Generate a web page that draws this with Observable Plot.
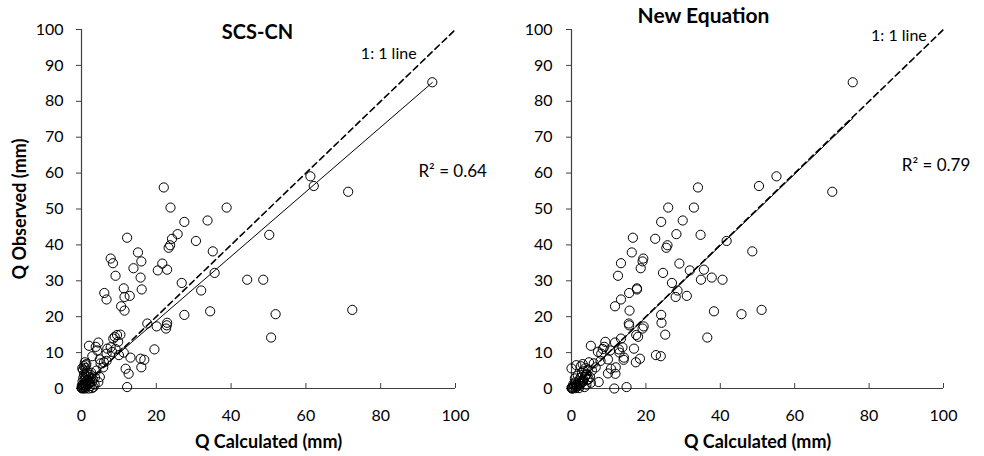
<!DOCTYPE html>
<html><head><meta charset="utf-8">
<script src="https://cdn.jsdelivr.net/npm/d3@7"></script>
<script src="https://cdn.jsdelivr.net/npm/@observablehq/plot@0.6"></script>
<style>
html,body{margin:0;padding:0;background:#fff;}
#wrap{display:flex;width:984px;height:456px;overflow:hidden;}
#wrap svg{display:block;flex:none;}
</style></head><body><div id="wrap"></div>
<script>
// Observed runoff (mm), shared by both panels
const observed = [
  85.3,59.1,56.4,56.0,54.8,50.4,50.4,46.8,46.4,43.0,42.8,42.0,41.7,41.1,39.9,39.2,38.2,37.9,36.2,35.4,
  34.9,34.8,33.5,33.1,32.9,32.2,31.4,30.9,30.3,30.3,29.4,27.9,27.6,27.3,26.6,25.8,25.5,24.8,22.9,21.9,
  21.7,21.5,20.7,20.5,
  18.3,18.1,17.6,17.3,16.7,15.0,14.9,14.4,14.2,13.9,13.0,12.8,11.9,11.6,11.1,11.5,10.9,10.2,11.0,10.0,
  9.3,9.0,8.6,8.3,8.0,8.1,7.3,7.0,7.7,5.9,5.5,4.1,4.2,5.0,5.9,3.2,1.8,0.4,0.0,5.6,6.5,9.7,10.6,
  0.0,0.1,0.2,0.3,0.5,0.6,0.8,1.0,1.2,1.5,1.7,2.0,2.2,2.5,2.8,3.0,3.3,3.6,4.0,4.4,
  4.8,5.2,5.7,6.2,6.8,7.3,0.0,0.1,0.4,0.7,1.1,1.4,1.9,2.4,3.1,3.8,0.2,0.9,1.6,2.6
];
// Calculated runoff (mm), SCS-CN
const calcSCS = [
  93.8,61.2,62.1,22.0,71.3,23.8,38.8,33.7,27.5,25.7,50.2,12.2,24.2,30.6,23.7,23.3,35.1,15.1,7.8,16.0,
  8.4,21.6,13.9,22.9,20.4,35.6,9.1,15.8,44.3,48.6,26.8,11.3,16.1,32.0,6.1,12.9,11.5,6.7,10.6,72.4,
  11.5,34.4,51.9,27.5,
  22.9,17.6,22.8,20.1,22.6,10.4,9.5,8.9,50.7,8.5,9.8,4.5,2.0,3.8,6.9,7.8,19.5,8.2,9.1,11.3,
  10.0,2.9,13.1,15.8,16.8,4.9,6.0,5.1,6.7,16.0,11.8,12.6,1.3,4.0,5.8,4.9,4.5,12.2,1.0,0.2,1.1,6.7,4.2,
  0.2,0.5,0.1,0.9,0.3,1.2,0.6,0.4,1.6,0.8,2.1,0.3,1.4,0.9,2.3,0.5,1.8,1.1,0.7,2.6,
  1.5,0.4,1.0,0.6,1.3,0.9,1.9,2.8,3.2,2.4,3.5,2.0,2.9,1.7,3.6,2.5,0.0,0.1,2.2,3.0
];
// Calculated runoff (mm), new equation
const calcNew = [
  75.6,55.1,50.4,34.0,70.1,26.0,32.9,29.9,24.1,28.2,34.7,16.5,22.5,41.7,25.8,25.5,48.6,16.2,19.3,19.1,
  13.3,29.0,18.6,35.6,31.8,24.6,12.5,37.7,34.8,40.6,27.0,17.6,17.6,28.5,15.5,31.0,28.0,13.3,11.7,51.1,
  15.6,38.3,45.7,24.1,
  24.2,15.4,15.5,19.4,19.1,25.2,17.4,17.9,36.5,13.3,9.1,11.7,5.2,8.8,16.8,13.7,12.7,7.1,8.4,12.9,
  22.7,24.0,14.1,18.4,14.0,9.8,17.3,6.0,7.8,11.9,10.6,11.8,9.8,5.5,6.5,5.0,7.3,14.8,11.5,0.0,1.3,8.0,10.4,
  0.3,1.1,0.6,0.2,1.5,0.8,2.2,1.3,0.5,2.6,1.0,1.9,2.9,3.2,0.9,2.4,3.6,1.7,4.1,2.8,
  3.3,4.4,3.8,2.5,3.0,4.7,0.1,2.0,3.5,1.4,4.0,2.2,3.1,4.3,2.7,3.9,0.0,0.7,5.2,4.6
];
const panelTitles = ["SCS-CN", "New Equation"];
const r2Labels = ["R² = 0.64", "R² = 0.79"];
const fitSlopes = [0.9, 0.995];
const fitIntercepts = [0.8, 0.0];
const fitMaxX = [93.8, 75.6];
const yTicks = [0,10,20,30,40,50,60,70,80,90,100];
const xTicks = [0,20,40,60,80,100];
const xLabel = "Q Calculated (mm)";
const yLabel = "Q Observed (mm)";
const oneToOneLabel = "1: 1 line";

const FONT = "Lato, 'Open Sans', sans-serif";

function panel(i, calc, o) {
  const pts = observed.map((v, k) => ({calc: calc[k], obs: v}));
  const fit = [0, fitMaxX[i]].map(x => ({x, y: fitSlopes[i] * x + fitIntercepts[i]}));
  const diag = [0, 100].map(v => ({x: v, y: v}));
  const marks = [
    Plot.axisY(yTicks, {tickSize: 5, tickPadding: o.tpy, stroke: "#404040", fill: "#000", fontSize: 16, label: null}),
    Plot.axisX(xTicks, {tickSize: -5, tickPadding: 26, stroke: "#404040", fill: "#000", fontSize: 16, label: null}),
    Plot.ruleX([0], {stroke: "#404040", strokeWidth: 1.2}),
    Plot.ruleY([0], {stroke: "#404040", strokeWidth: 1.2}),
    Plot.line(diag, {x: "x", y: "y", stroke: "#000", strokeWidth: 1.6, strokeDasharray: "6,4"}),
    Plot.line(fit, {x: "x", y: "y", stroke: "#000", strokeWidth: 1}),
    Plot.dot(pts, {x: "calc", y: "obs", r: 4.6, stroke: "#000", strokeWidth: 1, fill: "none"}),
    Plot.text([panelTitles[i]], {frameAnchor: "top", dx: o.tdx, dy: o.tdy, text: d => d, fontWeight: "bold", fontSize: o.tfs, lineAnchor: "middle", fill: "#000"}),
    Plot.text([r2Labels[i]], {x: o.r2x, y: o.r2y, text: d => d, textAnchor: "start", fontSize: 17, fill: "#000"}),
    Plot.text([oneToOneLabel], {x: o.lx, y: o.ly, text: d => d, textAnchor: "end", fontSize: 16, fill: "#000"}),
    Plot.text([xLabel], {frameAnchor: "bottom", dy: 54, text: d => d, fontWeight: "bold", fontSize: 18, lineAnchor: "middle", fill: "#000"})
  ];
  if (o.ylab) marks.push(Plot.text([yLabel], {frameAnchor: "left", dx: -61, rotate: -90, text: d => d, fontWeight: "bold", fontSize: 18, lineAnchor: "middle", textAnchor: "middle", fill: "#000"}));
  return Plot.plot({
    width: 492, height: 456,
    marginLeft: o.ml, marginRight: o.mr, marginTop: 29, marginBottom: 68,
    x: {domain: [0, 100]},
    y: {domain: [0, 100]},
    style: {fontFamily: FONT, fontSize: "16px", color: "#000", background: "#fff", overflow: "visible"},
    marks
  });
}

const wrap = document.getElementById("wrap");
wrap.appendChild(panel(0, calcSCS, {ml: 81, mr: 37, tpy: 13, tdx: -11, tdy: 3, tfs: 20, r2x: 90.1, r2y: 60.5, lx: 89.6, ly: 93.3, ylab: true}));
wrap.appendChild(panel(1, calcNew, {ml: 79, mr: 41, tpy: 14, tdx: -54, tdy: -13, tfs: 21, r2x: 88.8, r2y: 62.2, lx: 95.5, ly: 98.1, ylab: false}));
</script></body></html>
